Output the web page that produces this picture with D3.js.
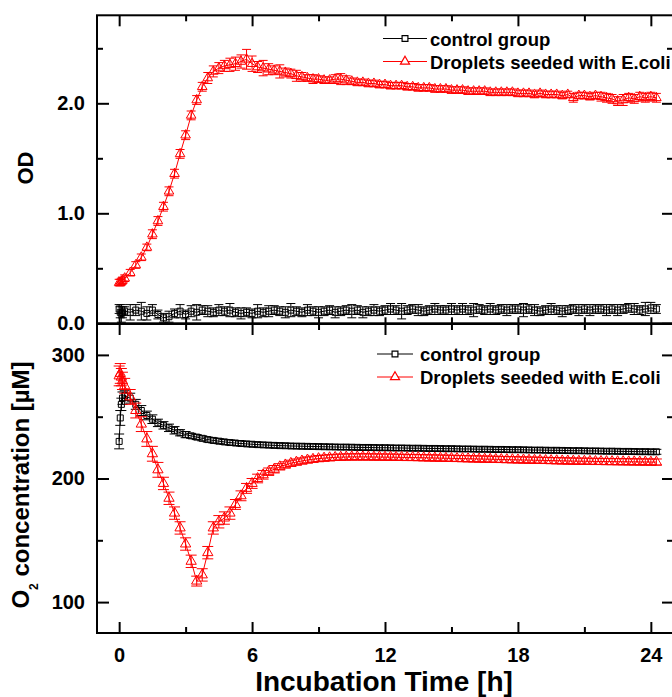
<!DOCTYPE html>
<html>
<head>
<meta charset="utf-8">
<script src="https://cdn.jsdelivr.net/npm/d3@7/dist/d3.min.js"></script>
<style>
  body { margin: 0; background: #fff; }
</style>
</head>
<body>
<div id="chart"></div>
<script>
// Sampling times [h]
const time = [
  0, 0.05, 0.1, 0.15,
  0.25, 0.5, 0.75, 1,
  1.25, 1.5, 1.75, 2,
  2.25, 2.5, 2.75, 3,
  3.25, 3.5, 3.75, 4,
  4.25, 4.5, 4.75, 5,
  5.25, 5.5, 5.75, 6,
  6.25, 6.5, 6.75, 7,
  7.25, 7.5, 7.75, 8,
  8.25, 8.5, 8.75, 9,
  9.25, 9.5, 9.75, 10,
  10.25, 10.5, 10.75, 11,
  11.25, 11.5, 11.75, 12,
  12.25, 12.5, 12.75, 13,
  13.25, 13.5, 13.75, 14,
  14.25, 14.5, 14.75, 15,
  15.25, 15.5, 15.75, 16,
  16.25, 16.5, 16.75, 17,
  17.25, 17.5, 17.75, 18,
  18.25, 18.5, 18.75, 19,
  19.25, 19.5, 19.75, 20,
  20.25, 20.5, 20.75, 21,
  21.25, 21.5, 21.75, 22,
  22.25, 22.5, 22.75, 23,
  23.25, 23.5, 23.75, 24,
  24.25
];

// OD, droplets seeded with E.coli
const odEcoli = [
  0.37, 0.37, 0.38, 0.39,
  0.41, 0.46, 0.53, 0.60,
  0.69, 0.81, 0.93, 1.06,
  1.20, 1.36, 1.54, 1.71,
  1.89, 2.03, 2.15, 2.23,
  2.29, 2.32, 2.34, 2.35,
  2.36, 2.38, 2.40, 2.36,
  2.33, 2.32, 2.31, 2.30,
  2.29, 2.28, 2.27, 2.25,
  2.24, 2.23, 2.22, 2.22,
  2.21, 2.21, 2.22, 2.22,
  2.21, 2.20, 2.19, 2.19,
  2.18, 2.18, 2.17, 2.17,
  2.16, 2.16, 2.16, 2.15,
  2.15, 2.14, 2.14, 2.14,
  2.13, 2.13, 2.13, 2.12,
  2.12, 2.12, 2.11, 2.11,
  2.11, 2.11, 2.10, 2.10,
  2.10, 2.10, 2.10, 2.09,
  2.09, 2.09, 2.08, 2.09,
  2.08, 2.08, 2.08, 2.07,
  2.08, 2.05, 2.07, 2.07,
  2.06, 2.07, 2.06, 2.05,
  2.04, 2.02, 2.03, 2.05,
  2.04, 2.06, 2.05, 2.06,
  2.05
];
const odEcoliErr = [
  0.03, 0.03, 0.03, 0.03,
  0.03, 0.03, 0.03, 0.03,
  0.03, 0.04, 0.04, 0.04,
  0.04, 0.04, 0.04, 0.04,
  0.04, 0.04, 0.04, 0.05,
  0.05, 0.05, 0.05, 0.06,
  0.06, 0.06, 0.09, 0.07,
  0.05, 0.07, 0.05, 0.04,
  0.06, 0.04, 0.04, 0.05,
  0.04, 0.03, 0.04, 0.03,
  0.03, 0.03, 0.04, 0.05,
  0.04, 0.03, 0.03, 0.03,
  0.03, 0.03, 0.03, 0.03,
  0.03, 0.03, 0.03, 0.03,
  0.03, 0.03, 0.03, 0.03,
  0.03, 0.03, 0.03, 0.03,
  0.03, 0.03, 0.03, 0.03,
  0.03, 0.03, 0.03, 0.03,
  0.03, 0.03, 0.03, 0.03,
  0.03, 0.03, 0.03, 0.03,
  0.03, 0.03, 0.03, 0.03,
  0.03, 0.04, 0.03, 0.03,
  0.03, 0.03, 0.04, 0.04,
  0.04, 0.04, 0.05, 0.04,
  0.04, 0.04, 0.04, 0.04,
  0.04
];

// OD, control group
const odControl = [
  0.13, 0.10, 0.09, 0.10,
  0.11, 0.10, 0.12, 0.11,
  0.09, 0.12, 0.08, 0.05,
  0.06, 0.09, 0.11, 0.08,
  0.11, 0.10, 0.12, 0.11,
  0.10, 0.12, 0.11, 0.12,
  0.10, 0.09, 0.10, 0.09,
  0.11, 0.10, 0.11, 0.12,
  0.11, 0.10, 0.12, 0.11,
  0.10, 0.12, 0.11, 0.10,
  0.11, 0.12, 0.10, 0.11,
  0.12, 0.11, 0.12, 0.10,
  0.11, 0.12, 0.11, 0.12,
  0.13, 0.12, 0.11, 0.12,
  0.13, 0.12, 0.11, 0.12,
  0.13, 0.12, 0.12, 0.13,
  0.12, 0.13, 0.12, 0.12,
  0.13, 0.12, 0.13, 0.12,
  0.13, 0.12, 0.13, 0.13,
  0.12, 0.13, 0.12, 0.11,
  0.12, 0.13, 0.12, 0.11,
  0.12, 0.13, 0.12, 0.13,
  0.12, 0.13, 0.13, 0.12,
  0.13, 0.12, 0.13, 0.14,
  0.13, 0.12, 0.13, 0.14,
  0.13
];
const odControlErr = [
  0.04, 0.05, 0.08, 0.05,
  0.04, 0.07, 0.05, 0.08,
  0.06, 0.05, 0.04, 0.04,
  0.05, 0.04, 0.06, 0.04,
  0.05, 0.07, 0.04, 0.05,
  0.04, 0.05, 0.04, 0.06,
  0.04, 0.05, 0.04, 0.04,
  0.06, 0.04, 0.05, 0.04,
  0.04, 0.05, 0.06, 0.04,
  0.04, 0.05, 0.04, 0.05,
  0.04, 0.04, 0.05, 0.04,
  0.04, 0.06, 0.04, 0.05,
  0.04, 0.05, 0.04, 0.04,
  0.05, 0.04, 0.07, 0.04,
  0.04, 0.05, 0.04, 0.04,
  0.05, 0.04, 0.04, 0.05,
  0.04, 0.05, 0.04, 0.06,
  0.04, 0.04, 0.05, 0.04,
  0.04, 0.05, 0.04, 0.04,
  0.06, 0.04, 0.05, 0.04,
  0.04, 0.05, 0.04, 0.05,
  0.04, 0.04, 0.05, 0.04,
  0.05, 0.04, 0.04, 0.05,
  0.04, 0.05, 0.04, 0.04,
  0.05, 0.04, 0.06, 0.05,
  0.04
];

// O2 concentration [µM], control group
const o2Control = [
  230, 249, 260, 265,
  267, 265, 260, 255,
  251, 248, 245, 243,
  241, 239, 237, 235.5,
  234.5, 233.5, 232.5, 231.5,
  230.8, 230.2, 229.6, 229.1,
  228.7, 228.3, 228.0, 227.7,
  227.4, 227.2, 227.0, 226.8,
  226.6, 226.5, 226.3, 226.2,
  226.1, 226.0, 225.9, 225.8,
  225.7, 225.6, 225.5, 225.4,
  225.4, 225.3, 225.2, 225.1,
  225.1, 225.0, 224.9, 224.9,
  224.8, 224.7, 224.7, 224.6,
  224.5, 224.5, 224.4, 224.3,
  224.3, 224.2, 224.1, 224.1,
  224.0, 223.9, 223.9, 223.8,
  223.7, 223.7, 223.6, 223.5,
  223.5, 223.4, 223.3, 223.3,
  223.2, 223.1, 223.0, 223.0,
  222.9, 222.8, 222.8, 222.7,
  222.6, 222.5, 222.5, 222.4,
  222.3, 222.3, 222.2, 222.1,
  222.1, 222.0, 221.9, 221.9,
  221.8, 221.7, 221.7, 221.6,
  221.6
];
const o2ControlErr = [
  6, 6, 5, 5,
  4, 4, 4, 4,
  3.5, 3.5, 3, 3,
  3, 3, 2.5, 2.5,
  2, 2, 2, 2,
  2, 2, 2, 2,
  2, 2, 2, 2,
  2, 2, 2, 2,
  2, 2, 2, 2,
  2, 2, 2, 2,
  2, 2, 2, 2,
  2, 2, 2, 2,
  2, 2, 2, 2,
  2, 2, 2, 2,
  2, 2, 2, 2,
  2, 2, 2, 2,
  2, 2, 2, 2,
  2, 2, 2, 2,
  2, 2, 2, 2,
  2, 2, 2, 2,
  2, 2, 2, 2,
  2, 2, 2, 2,
  2, 2, 2, 2,
  2, 2, 2, 2,
  2, 2, 2, 2,
  2
];

// O2 concentration [µM], droplets seeded with E.coli
const o2Ecoli = [
  283, 285, 282, 279,
  275, 266, 255, 244,
  232, 220, 207, 196,
  184, 172, 160, 147,
  133, 117, 122, 140,
  160, 165, 168, 172,
  179, 186, 192, 196,
  200, 203, 205.5, 207.5,
  209.5, 211, 212.3, 213.3,
  214.2, 215, 215.6, 216.1,
  216.5, 216.8, 217.1, 217.3,
  217.4, 217.5, 217.5, 217.5,
  217.5, 217.4, 217.4, 217.3,
  217.3, 217.2, 217.1, 217.0,
  217.0, 216.9, 216.8, 216.7,
  216.6, 216.5, 216.4, 216.3,
  216.2, 216.1, 216.0, 215.9,
  215.8, 215.7, 215.6, 215.5,
  215.4, 215.3, 215.2, 215.1,
  215.0, 214.9, 214.8, 214.7,
  214.6, 214.5, 214.4, 214.3,
  214.2, 214.1, 214.0, 214.0,
  213.9, 213.8, 213.8, 213.7,
  213.7, 213.6, 213.6, 213.5,
  213.5, 213.4, 213.4, 213.3,
  213.3
];
const o2EcoliErr = [
  8, 8, 7, 7,
  6, 6, 6, 6,
  6, 6, 6, 5,
  5, 5, 5, 5,
  5, 4, 5, 5,
  5, 5, 5, 5,
  4, 4, 4, 4,
  3.5, 3.5, 3, 3,
  2.5, 2.5, 2.5, 2.5,
  2.5, 2.5, 2.5, 2.5,
  2.5, 2.5, 2.5, 2.5,
  2.5, 2.5, 2.5, 2.5,
  2.5, 2.5, 2.5, 2.5,
  2.5, 2.5, 2.5, 2.5,
  2.5, 2.5, 2.5, 2.5,
  2.5, 2.5, 2.5, 2.5,
  2.5, 2.5, 2.5, 2.5,
  2.5, 2.5, 2.5, 2.5,
  2.5, 2.5, 2.5, 2.5,
  2.5, 2.5, 2.5, 2.5,
  2.5, 2.5, 2.5, 2.5,
  2.5, 2.5, 2.5, 2.5,
  2.5, 2.5, 2.5, 2.5,
  2.5, 2.5, 2.5, 2.5,
  2.5, 2.5, 2.5, 2.5,
  2.5
];

const xMajor = [0, 6, 12, 18, 24];
const xMinor = [3, 9, 15, 21];
const odMajor = [0, 1, 2];
const odMinor = [0.5, 1.5, 2.5];
const o2Major = [100, 200, 300];
const o2Minor = [150, 250];
const legendNames = ['control group', 'Droplets seeded with E.coli'];

const FONT = '"Liberation Sans", Arial, Helvetica, sans-serif';
const RED = '#ff0000';

const svg = d3.select('#chart')
    .append('svg')
    .attr('width', 672)
    .attr('height', 697)
    .style('background', '#fff');

const x = d3.scaleLinear().domain([-1, 25]).range([97, 673]);
const yOD = d3.scaleLinear().domain([0, 2.8]).range([323.3, 15.3]);
const yO2 = d3.scaleLinear().domain([75, 325]).range([633, 324]);

// inward ticks on one side of a panel
function ticks(axisFn, scale, pos, values, size, fmt, pad) {
    const ax = axisFn(scale)
        .tickValues(values)
        .tickSizeInner(-size)
        .tickSizeOuter(0)
        .tickPadding(pad || 0)
        .tickFormat(fmt || (() => ''));
    const vertical = axisFn === d3.axisLeft || axisFn === d3.axisRight;
    const g = svg.append('g')
        .attr('transform', vertical ? `translate(${pos},0)` : `translate(0,${pos})`)
        .call(ax);
    g.select('.domain').remove();
    g.attr('font-family', FONT).attr('font-size', 20).attr('font-weight', 'bold');
    g.selectAll('line').attr('stroke', '#000').attr('stroke-width', 2);
    g.selectAll('text').attr('fill', '#000');
}

function panel(y, major, minor, fmt, labelsX) {
    const [x0, x1] = x.range();
    const [yb, yt] = y.range();
    ticks(d3.axisLeft, y, x0, major, 12, fmt, 12);
    ticks(d3.axisLeft, y, x0, minor, 6);
    ticks(d3.axisRight, y, x1, major, 11);
    ticks(d3.axisRight, y, x1, minor, 6);
    ticks(d3.axisTop, x, yt, xMajor, 11);
    ticks(d3.axisTop, x, yt, xMinor, 6);
    ticks(d3.axisBottom, x, yb, xMajor, labelsX ? 11 : 6, labelsX ? d3.format('d') : null, 15);
    ticks(d3.axisBottom, x, yb, xMinor, 6);
    svg.append('rect')
        .attr('x', x0).attr('y', yt)
        .attr('width', x1 - x0).attr('height', yb - yt)
        .attr('fill', 'none')
        .attr('stroke', '#000')
        .attr('stroke-width', 2);
}

function series(y, vals, errs, color, shape, size, cap) {
    const pts = time.map((t, i) => ({ t: t, v: vals[i], e: errs[i] }));
    const g = svg.append('g');
    g.selectAll('path.err')
        .data(pts)
        .join('path')
        .attr('class', 'err')
        .attr('d', d => {
            const px = x(d.t), y1 = y(d.v + d.e), y2 = y(d.v - d.e), h = cap / 2;
            return `M${px - h},${y1}H${px + h}M${px},${y1}V${y2}M${px - h},${y2}H${px + h}`;
        })
        .attr('fill', 'none')
        .attr('stroke', color)
        .attr('stroke-width', 1);
    g.append('path')
        .datum(pts)
        .attr('d', d3.line().x(d => x(d.t)).y(d => y(d.v)))
        .attr('fill', 'none')
        .attr('stroke', color)
        .attr('stroke-width', 1);
    g.selectAll('path.mk')
        .data(pts)
        .join('path')
        .attr('class', 'mk')
        .attr('transform', d => `translate(${x(d.t)},${y(d.v)})`)
        .attr('d', d3.symbol().type(shape).size(size))
        .attr('fill', 'none')
        .attr('stroke', color)
        .attr('stroke-width', 1);
}

function legend(lx0, lx1, tx, rows) {
    const items = [
        { name: legendNames[0], color: '#000', shape: d3.symbolSquare, size: 34 },
        { name: legendNames[1], color: RED, shape: d3.symbolTriangle, size: 36 }
    ];
    items.forEach((it, i) => {
        const ly = rows[i];
        svg.append('line')
            .attr('x1', lx0).attr('x2', lx1)
            .attr('y1', ly).attr('y2', ly)
            .attr('stroke', it.color)
            .attr('stroke-width', 1);
        svg.append('path')
            .attr('transform', `translate(${(lx0 + lx1) / 2},${ly})`)
            .attr('d', d3.symbol().type(it.shape).size(it.size))
            .attr('fill', '#fff')
            .attr('stroke', it.color)
            .attr('stroke-width', 1.2);
        svg.append('text')
            .attr('x', tx).attr('y', ly + 7)
            .attr('font-family', FONT)
            .attr('font-size', 18.5)
            .attr('font-weight', 'bold')
            .attr('fill', '#000')
            .text(it.name);
    });
}

// top panel: OD
panel(yOD, odMajor, odMinor, d3.format('.1f'), false);
series(yOD, odControl, odControlErr, '#000', d3.symbolSquare, 36, 9);
series(yOD, odEcoli, odEcoliErr, RED, d3.symbolTriangle, 40, 9);
legend(383, 427, 430, [38.5, 61.5]);

// bottom panel: O2
panel(yO2, o2Major, o2Minor, d3.format('d'), true);
series(yO2, o2Control, o2ControlErr, '#000', d3.symbolSquare, 36, 10);
series(yO2, o2Ecoli, o2EcoliErr, RED, d3.symbolTriangle, 46, 11);
legend(377, 413, 420, [354, 377]);

// axis titles
svg.append('text')
    .attr('transform', 'translate(33,168) rotate(-90)')
    .attr('text-anchor', 'middle')
    .attr('font-family', FONT)
    .attr('font-size', 22)
    .attr('font-weight', 'bold')
    .text('OD');

const o2Title = svg.append('text')
    .attr('transform', 'translate(29,485) rotate(-90)')
    .attr('text-anchor', 'middle')
    .attr('font-family', FONT)
    .attr('font-size', 24)
    .attr('font-weight', 'bold');
o2Title.append('tspan').text('O');
o2Title.append('tspan').attr('dy', 9).attr('font-size', 12).text('2');
o2Title.append('tspan').attr('dy', -9).text(' concentration [µM]');

svg.append('text')
    .attr('x', 384).attr('y', 691)
    .attr('text-anchor', 'middle')
    .attr('font-family', FONT)
    .attr('font-size', 28)
    .attr('font-weight', 'bold')
    .text('Incubation Time [h]');
</script>
</body>
</html>
